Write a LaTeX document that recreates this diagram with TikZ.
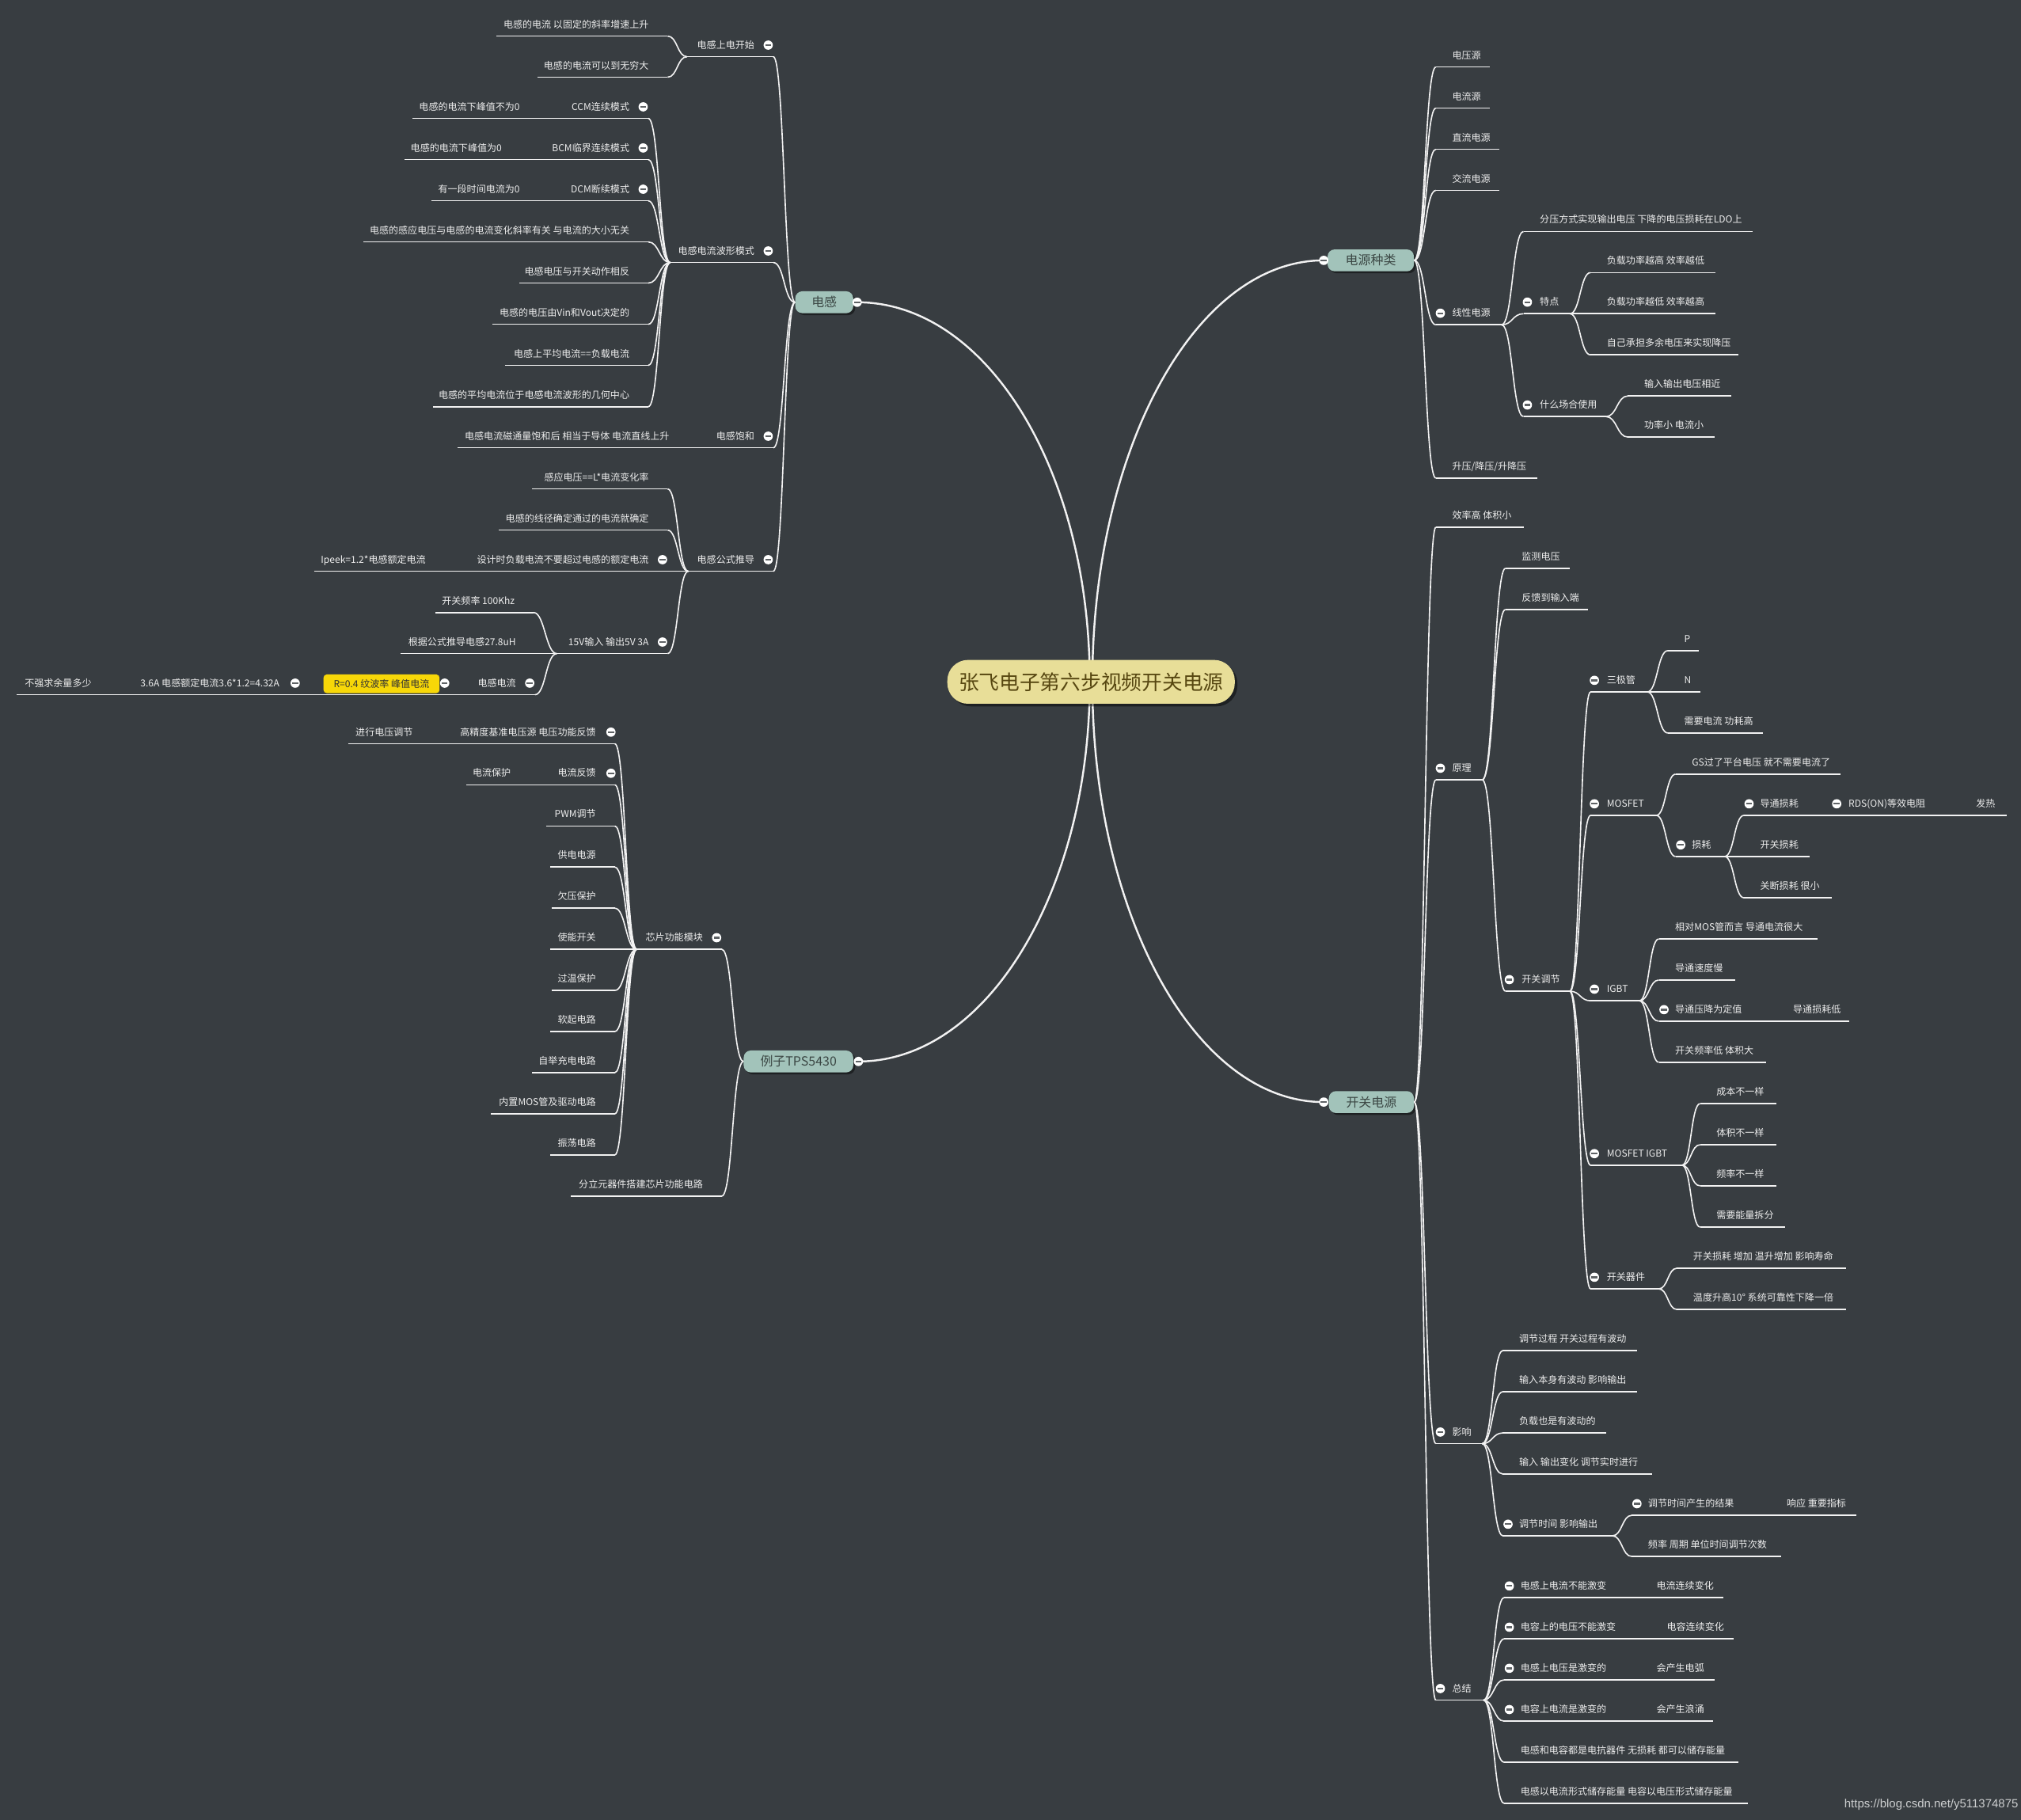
\documentclass[tikz,border=0pt]{standalone}
\usepackage{fontspec}
\setmainfont{Noto Sans CJK SC}
\newfontfamily\wmfont{Liberation Sans}
\usetikzlibrary{shadows}
\definecolor{bgc}{HTML}{383D41}
\definecolor{linec}{HTML}{F2F2F2}
\definecolor{txtc}{HTML}{EDEDED}
\definecolor{tealc}{HTML}{A2C3BA}
\definecolor{tealtxt}{HTML}{3B4744}
\definecolor{ctrfill}{HTML}{E8DE98}
\definecolor{ctrtxt}{HTML}{574711}
\definecolor{yelc}{HTML}{F7D708}
\definecolor{mbar}{HTML}{5F6366}
\newcommand\lblfont{\fontsize{7.4}{8.5}\selectfont}
\newcommand\boxfont{\fontsize{9.8}{11}\selectfont}
\newcommand\ctrfont{\fontsize{15.8}{18}\selectfont}
\newcommand\wmsize{\fontsize{9.2}{10}\selectfont}
\pgfdeclarelayer{bg}
\pgfsetlayers{bg,main}
\tikzset{
 lbl/.style={text=txtc, font=\lblfont, inner sep=0pt, text height=6.1pt, text depth=0.9pt},
 ln/.style={draw=linec, line width=1pt},
 mainln/.style={draw=linec, line width=1.5pt},
 tbox/.style={fill=tealc, text=tealtxt, font=\boxfont, rounded corners=5.5pt, minimum height=17pt, inner sep=0pt,
   drop shadow={shadow xshift=1.5pt, shadow yshift=-1.5pt, opacity=0.45, fill=black}},
 cbox/.style={fill=ctrfill, text=ctrtxt, font=\ctrfont, rounded corners=16pt, minimum width=223pt, minimum height=34pt, inner sep=0pt,
   drop shadow={shadow xshift=2pt, shadow yshift=-2pt, opacity=0.45, fill=black}},
 ybox/.style={fill=yelc, text=black!80, font=\lblfont, rounded corners=2.5pt, minimum width=90pt, minimum height=14.5pt, inner sep=0pt},
 mnode/.style={circle, fill=white, minimum size=7.2pt, inner sep=0pt,
   path picture={\draw[line width=1.4pt, draw=mbar] ([xshift=-2.3pt]path picture bounding box.center) -- ([xshift=2.3pt]path picture bounding box.center);}},
}
\newcommand\lItem[5]{\coordinate (#1-s) at (#2,#4+9); \coordinate (#1-e) at (#3,#4+9);
 \node[lbl,anchor=east] (#1) at (#3-14.5,#4) {#5}; \draw[ln] (#1-s) -- (#1-e);}
\newcommand\rItem[5]{\coordinate (#1-s) at (#2,#4+9); \coordinate (#1-e) at (#3,#4+9);
 \node[lbl,anchor=west] (#1) at (#2+12.5,#4) {#5}; \draw[ln] (#1-s) -- (#1-e);}
\newcommand\mItem[3]{\node[mnode] (#1) at (#2,#3) {};}
\newcommand\lCon[3]{\draw[ln] (#1) .. controls +(-#3,0) and +(#3,0) .. (#2-e);}
\newcommand\rCon[3]{\draw[ln] (#1) .. controls +(#3,0) and +(-#3,0) .. (#2-s);}
\begin{document}
\begin{tikzpicture}[x=1pt,y=-1pt]
\useasboundingbox (0,0) rectangle (1568,1412);
% center
\node[cbox] (ctr) at (846.5,529) {张飞电子第六步视频开关电源};

% ===== 电感 =====
\node[tbox, minimum width=45pt] (L) at (639.5,234.5) {电感};
\mItem{Lm}{665}{234.5}
\lItem{a1}{533}{600}{35}{电感上电开始} \mItem{a1m}{596}{35}
\lItem{a11}{385}{518}{19}{电感的电流 以固定的斜率增速上升}
\lItem{a12}{417}{518}{50.9}{电感的电流可以到无穷大}
\lItem{a2}{520}{600}{194.7}{电感电流波形模式} \mItem{a2m}{596}{194.7}
\lItem{a21}{418}{503}{82.9}{CCM连续模式} \mItem{a21m}{499}{82.9}
\lItem{a21c}{320}{418}{82.9}{电感的电流下峰值不为0}
\lItem{a22}{404}{503}{114.8}{BCM临界连续模式} \mItem{a22m}{499}{114.8}
\lItem{a22c}{314}{404}{114.8}{电感的电流下峰值为0}
\lItem{a23}{418}{503}{146.8}{DCM断续模式} \mItem{a23m}{499}{146.8}
\lItem{a23c}{335}{418}{146.8}{有一段时间电流为0}
\lItem{a24}{282}{503}{178.7}{电感的感应电压与电感的电流变化斜率有关 与电流的大小无关}
\lItem{a25}{403}{503}{210.6}{电感电压与开关动作相反}
\lItem{a26}{382}{503}{242.6}{电感的电压由Vin和Vout决定的}
\lItem{a27}{392}{503}{274.5}{电感上平均电流==负载电流}
\lItem{a28}{336}{503}{306.5}{电感的平均电流位于电感电流波形的几何中心}
\lItem{a3}{534}{600}{338.4}{电感饱和} \mItem{a3m}{596}{338.4}
\lItem{a3c}{355}{534}{338.4}{电感电流磁通量饱和后 相当于导体 电流直线上升}
\lItem{a4}{534}{600}{434.2}{电感公式推导} \mItem{a4m}{596}{434.2}
\lItem{a41}{413}{518}{370.3}{感应电压==L*电流变化率}
\lItem{a42}{387}{518}{402.3}{电感的线径确定通过的电流就确定}
\lItem{a43}{345}{518}{434.2}{设计时负载电流不要超过电感的额定电流} \mItem{a43m}{514}{434.2}
\lItem{a43c}{244}{345}{434.2}{Ipeek=1.2*电感额定电流}
\lItem{a44}{432}{518}{498.1}{15V输入 输出5V 3A} \mItem{a44m}{514}{498.1}
\lItem{a441}{338}{414}{466.2}{开关频率 100Khz}
\lItem{a442}{311}{415}{498.1}{根据公式推导电感27.8uH}
\lItem{a443}{13}{415}{530}{电感电流} \mItem{a443m}{411}{530}
\node[ybox] (yb) at (296,530.5) {R=0.4 纹波率 峰值电流};
\mItem{ybm}{345}{530}
\node[lbl,anchor=east] (a4432) at (217,530) {3.6A 电感额定电流3.6*1.2=4.32A};
\mItem{a4432m}{229}{530}
\node[lbl,anchor=west] (a4433) at (19,530) {不强求余量多少};
\foreach \c in {a1,a2,a3,a4} {\lCon{L.west}{\c}{8.5}}
\foreach \c in {a11,a12} {\lCon{a1-s}{\c}{7.5}}
\foreach \c in {a21,a22,a23,a24,a25,a26,a27,a28} {\lCon{a2-s}{\c}{8.5}}
\foreach \c in {a41,a42,a43,a44} {\lCon{a4-s}{\c}{8}}
\foreach \c in {a441,a442,a443} {\lCon{a44-s}{\c}{8.5}}

% ===== 例子TPS5430 =====
\node[tbox, minimum width=85pt] (E) at (619.5,823.5) {例子TPS5430};
\mItem{Em}{666}{823.5}
\lItem{e1}{494}{560}{727.5}{芯片功能模块} \mItem{e1m}{556}{727.5}
\lItem{e2}{443}{560}{918.9}{分立元器件搭建芯片功能电路}
\lItem{e11}{335}{477}{568}{高精度基准电压源 电压功能反馈} \mItem{e11m}{474}{568}
\lItem{e11c}{270}{335}{568}{进行电压调节}
\lItem{e12}{411}{477}{599.9}{电流反馈} \mItem{e12m}{474}{599.9}
\lItem{e12c}{362}{411}{599.9}{电流保护}
\lItem{e13}{424}{477}{631.8}{PWM调节}
\lItem{e14}{427}{477}{663.7}{供电电源}
\lItem{e15}{428}{477}{695.6}{欠压保护}
\lItem{e16}{427}{477}{727.5}{使能开关}
\lItem{e17}{428}{477}{759.4}{过温保护}
\lItem{e18}{427}{477}{791.3}{软起电路}
\lItem{e19}{413}{477}{823.2}{自举充电电路}
\lItem{e1a}{381}{477}{855.1}{内置MOS管及驱动电路}
\lItem{e1b}{427}{477}{887}{振荡电路}
\foreach \c in {e1,e2} {\lCon{E.west}{\c}{8.5}}
\foreach \c in {e11,e12,e13,e14,e15,e16,e17,e18,e19,e1a,e1b} {\lCon{e1-s}{\c}{8.5}}

% ===== 电源种类 =====
\node[tbox, minimum width=67pt] (T) at (1063.5,202) {电源种类};
\mItem{Tm}{1027}{202}
\rItem{t1}{1114}{1156}{43}{电压源}
\rItem{t2}{1114}{1156}{74.9}{电流源}
\rItem{t3}{1114}{1163}{106.8}{直流电源}
\rItem{t4}{1114}{1163}{138.7}{交流电源}
\rItem{t5}{1114}{1165}{243}{线性电源} \mItem{t5m}{1117.5}{243}
\rItem{t6}{1114}{1193}{362}{升压/降压/升降压}
\rItem{t51}{1182}{1360}{170.6}{分压方式实现输出电压 下降的电压损耗在LDO上}
\rItem{t52}{1182}{1218}{234.4}{特点} \mItem{t52m}{1185}{234.4}
\rItem{t521}{1234}{1331}{202.5}{负载功率越高 效率越低}
\rItem{t522}{1234}{1331}{234.4}{负载功率越低 效率越高}
\rItem{t523}{1234}{1349}{266.3}{自己承担多余电压来实现降压}
\rItem{t53}{1182}{1246}{314.2}{什么场合使用} \mItem{t53m}{1185}{314.2}
\rItem{t531}{1263}{1343}{298.2}{输入输出电压相近}
\rItem{t532}{1263}{1330}{330.1}{功率小 电流小}
\foreach \c in {t1,t2,t3,t4,t5,t6} {\rCon{T.east}{\c}{8.5}}
\foreach \c in {t51,t52,t53} {\rCon{t5-e}{\c}{8.5}}
\foreach \c in {t521,t522,t523} {\rCon{t52-e}{\c}{8}}
\foreach \c in {t531,t532} {\rCon{t53-e}{\c}{8.5}}

% ===== 开关电源 =====
\node[tbox, minimum width=66pt] (S) at (1064,855) {开关电源};
\mItem{Sm}{1027}{855}
\rItem{s1}{1114}{1182}{400}{效率高 体积小}
\rItem{s2}{1114}{1150}{596}{原理} \mItem{s2m}{1117.5}{596}
\rItem{s3}{1114}{1150}{1111}{影响} \mItem{s3m}{1117.5}{1111}
\rItem{s4}{1114}{1151}{1310}{总结} \mItem{s4m}{1117.5}{1310}
\rItem{s21}{1168}{1218}{431.9}{监测电压}
\rItem{s22}{1168}{1232}{463.9}{反馈到输入端}
\rItem{s23}{1168}{1218}{760}{开关调节} \mItem{s23m}{1171}{760}
\rItem{s231}{1234}{1278}{527.8}{三极管} \mItem{s231m}{1237}{527.8}
\rItem{s2311}{1294}{1318}{495.8}{P}
\rItem{s2312}{1294}{1319}{527.8}{N}
\rItem{s2313}{1294}{1368}{559.7}{需要电流 功耗高}
\rItem{s232}{1234}{1285}{623.6}{MOSFET} \mItem{s232m}{1237}{623.6}
\rItem{s2321}{1300}{1428}{591.6}{GS过了平台电压 就不需要电流了}
\rItem{s2322}{1300}{1338}{655.5}{损耗} \mItem{s2322m}{1304}{655.5}
\rItem{s23221}{1353}{1557}{623.6}{导通损耗} \mItem{s23221m}{1357}{623.6}
\mItem{rdsm}{1425}{623.6}
\node[lbl,anchor=west] (rds) at (1434,623.6) {RDS(ON)等效电阻};
\node[lbl,anchor=west] (fare) at (1533,623.6) {发热};
\rItem{s23222}{1353}{1404}{655.5}{开关损耗}
\rItem{s23223}{1353}{1421}{687.5}{关断损耗 很小}
\rItem{s233}{1234}{1272}{767.4}{IGBT} \mItem{s233m}{1237}{767.4}
\rItem{s2331}{1287}{1410}{719.4}{相对MOS管而言 导通电流很大}
\rItem{s2332}{1287}{1346}{751.3}{导通速度慢}
\rItem{s2333}{1287}{1435}{783.3}{导通压降为定值} \mItem{s2333m}{1291}{783.3}
\node[lbl,anchor=west] (s2333x) at (1391,783.3) {导通损耗低};
\rItem{s2334}{1287}{1370}{815.2}{开关频率低 体积大}
\rItem{s234}{1234}{1305}{895}{MOSFET IGBT} \mItem{s234m}{1237}{895}
\rItem{s2341}{1319}{1378}{847.2}{成本不一样}
\rItem{s2342}{1319}{1378}{879.1}{体积不一样}
\rItem{s2343}{1319}{1378}{911}{频率不一样}
\rItem{s2344}{1319}{1385}{943}{需要能量拆分}
\rItem{s235}{1234}{1287}{990.9}{开关器件} \mItem{s235m}{1237}{990.9}
\rItem{s2351}{1301}{1432}{974.9}{开关损耗 增加 温升增加 影响寿命}
\rItem{s2352}{1301}{1432}{1006.9}{温度升高10° 系统可靠性下降一倍}
\rItem{s31}{1166}{1270}{1038.8}{调节过程 开关过程有波动}
\rItem{s32}{1166}{1270}{1070.7}{输入本身有波动 影响输出}
\rItem{s33}{1166}{1246}{1102.7}{负载也是有波动的}
\rItem{s34}{1166}{1282}{1134.6}{输入 输出变化 调节实时进行}
\rItem{s35}{1166}{1251}{1182.5}{调节时间 影响输出} \mItem{s35m}{1170}{1182.5}
\rItem{s351}{1266}{1440}{1166.6}{调节时间产生的结果} \mItem{s351m}{1270}{1166.6}
\node[lbl,anchor=west] (s351x) at (1386,1166.6) {响应 重要指标};
\rItem{s352}{1266}{1382}{1198.5}{频率 周期 单位时间调节次数}
\rItem{s41}{1167}{1337}{1230.4}{电感上电流不能激变} \mItem{s41m}{1171}{1230.4}
\node[lbl,anchor=west] (s41x) at (1285,1230.4) {电流连续变化};
\rItem{s42}{1167}{1345}{1262.4}{电容上的电压不能激变} \mItem{s42m}{1171}{1262.4}
\node[lbl,anchor=west] (s42x) at (1293,1262.4) {电容连续变化};
\rItem{s43}{1167}{1330}{1294.3}{电感上电压是激变的} \mItem{s43m}{1171}{1294.3}
\node[lbl,anchor=west] (s43x) at (1285,1294.3) {会产生电弧};
\rItem{s44}{1167}{1329}{1326.3}{电容上电流是激变的} \mItem{s44m}{1171}{1326.3}
\node[lbl,anchor=west] (s44x) at (1285,1326.3) {会产生浪涌};
\rItem{s45}{1167}{1349}{1358.2}{电感和电容都是电抗器件 无损耗 都可以储存能量}
\rItem{s46}{1167}{1356}{1390.1}{电感以电流形式储存能量 电容以电压形式储存能量}
\foreach \c in {s1,s2,s3,s4} {\rCon{S.east}{\c}{8.5}}
\foreach \c in {s21,s22,s23} {\rCon{s2-e}{\c}{9}}
\foreach \c in {s231,s232,s233,s234,s235} {\rCon{s23-e}{\c}{8}}
\foreach \c in {s2311,s2312,s2313} {\rCon{s231-e}{\c}{8}}
\foreach \c in {s2321,s2322} {\rCon{s232-e}{\c}{7.5}}
\foreach \c in {s23221,s23222,s23223} {\rCon{s2322-e}{\c}{7.5}}
\foreach \c in {s2331,s2332,s2333,s2334} {\rCon{s233-e}{\c}{7.5}}
\foreach \c in {s2341,s2342,s2343,s2344} {\rCon{s234-e}{\c}{7}}
\foreach \c in {s2351,s2352} {\rCon{s235-e}{\c}{7}}
\foreach \c in {s31,s32,s33,s34,s35} {\rCon{s3-e}{\c}{8}}
\foreach \c in {s351,s352} {\rCon{s35-e}{\c}{7.5}}
\foreach \c in {s41,s42,s43,s44,s45,s46} {\rCon{s4-e}{\c}{8}}

% watermark
\node[font=\wmfont\wmsize, text=white!75!bgc, anchor=east, inner sep=0pt] (wm) at (1566,1400) {https://blog.csdn.net/y511374875};

\begin{pgfonlayer}{bg}
 \fill[bgc] (0,0) rectangle (1568,1412);
 \draw[mainln] ([xshift=-1pt]ctr.center) .. controls +(0,-165) and +(100,0) .. (Lm.center);
 \draw[mainln] ([xshift=1pt]ctr.center) .. controls +(0,-180) and +(-100,0) .. (Tm.center);
 \draw[mainln] ([xshift=-1pt]ctr.center) .. controls +(0,162) and +(100,0) .. (Em.center);
 \draw[mainln] ([xshift=1pt]ctr.center) .. controls +(0,180) and +(-100,0) .. (Sm.center);
\end{pgfonlayer}
\end{tikzpicture}
\end{document}
